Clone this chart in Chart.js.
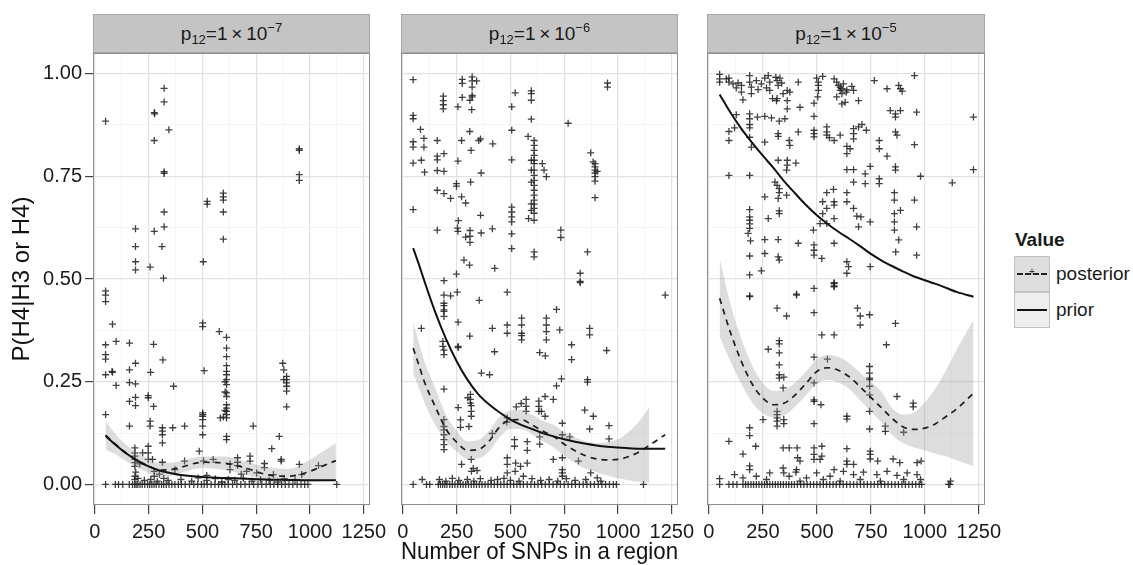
<!DOCTYPE html>
<html lang="en">
<head>
<meta charset="UTF-8">
<title>P(H4|H3 or H4) vs number of SNPs</title>
<script src="https://cdn.jsdelivr.net/npm/chart.js"></script>
<style>
  body { margin: 0; background: #fff; font-family: "Liberation Sans", Arial, sans-serif; }
  #wrap { position: relative; width: 1133px; height: 565px; overflow: hidden; }
  canvas { position: absolute; top: 45px; }
  .strip { position: absolute; top: 14px; height: 39px; box-sizing: border-box; background: #c4c4c4;
           border: 1px solid #a6a6a6; text-align: center; line-height: 38px;
           font-size: 19px; color: #1a1a1a; }
  .strip .sb { font-size: 13px; position: relative; top: 4px; }
  .strip .sp { font-size: 13px; position: relative; top: -8px; }
  .legend-title { position: absolute; left: 1015px; top: 229px; font-size: 19px; font-weight: bold; color: #1a1a1a; }
  .key { position: absolute; left: 1014px; width: 36px; height: 36px; box-sizing: border-box; border: 1px solid #c2c2c2; }
  .key .ln { position: absolute; left: 2px; right: 2px; top: 16px; height: 0; }
  .key .plus { position: absolute; left: 0; right: 0; top: 9px; text-align: center; font-size: 10px; color: #333; }
  .key-label { position: absolute; left: 1056px; font-size: 19px; color: #1a1a1a; }
</style>
</head>
<body>
<div id="wrap">
  <canvas id="c1" width="392" height="520" style="left:0px"></canvas>
  <canvas id="c2" width="315" height="520" style="left:385px"></canvas>
  <canvas id="c3" width="317" height="520" style="left:690px"></canvas>

  <div class="strip" style="left:93px; width:277px">p<span class="sb">12</span>=1&thinsp;×&thinsp;10<span class="sp">−7</span></div>
  <div class="strip" style="left:401px; width:277px">p<span class="sb">12</span>=1&thinsp;×&thinsp;10<span class="sp">−6</span></div>
  <div class="strip" style="left:707px; width:278px">p<span class="sb">12</span>=1&thinsp;×&thinsp;10<span class="sp">−5</span></div>

  <!-- legend -->
  <div class="legend-title">Value</div>
  <div class="key" style="top:256px; background:#dedede">
    <div class="ln" style="border-top:2px dashed #222"></div>
    <div class="plus">+</div>
  </div>
  <div class="key" style="top:292px; background:#eeeeee">
    <div class="ln" style="border-top:2px solid #111"></div>
  </div>
  <div class="key-label" style="top:263px">posterior</div>
  <div class="key-label" style="top:299px">prior</div>
</div>

<script>
// axis breaks
const xBreaks = [0, 250, 500, 750, 1000, 1250];
const yBreaks = [0, 0.25, 0.5, 0.75, 1];

// p12 = 1e-7 : posterior points (SNPs, P)
const pts1 = [
  [50,0.884],[322,0.964],[322,0.931],[276,0.905],[278,0.902],[344,0.863],[276,0.837],[322,0.761],[322,0.757],
  [950,0.817],[950,0.813],[950,0.754],[950,0.740],[322,0.663],[322,0.627],[276,0.616],[189,0.622],[189,0.579],
  [189,0.542],[189,0.522],[257,0.529],[312,0.579],[319,0.502],[522,0.689],[522,0.682],[597,0.709],[597,0.700],
  [597,0.692],[597,0.663],[597,0.597],[504,0.542],[50,0.471],[50,0.461],[50,0.445],
  [82,0.390],[50,0.340],[50,0.316],[50,0.305],[99,0.348],[161,0.344],[273,0.341],[316,0.303],[189,0.295],
  [50,0.267],[82,0.273],[80,0.275],[99,0.241],[161,0.279],[161,0.248],[189,0.245],[259,0.273],[366,0.239],
  [161,0.202],[189,0.212],[189,0.192],[248,0.216],[248,0.211],[273,0.190],[161,0.142],[257,0.154],[257,0.142],
  [314,0.138],[314,0.130],[314,0.121],[314,0.101],[362,0.138],[417,0.142],[501,0.393],[501,0.384],[508,0.277],
  [501,0.174],[501,0.170],[501,0.166],[501,0.158],[501,0.142],[501,0.121],[578,0.372],
  [612,0.358],[612,0.332],[612,0.311],[612,0.289],[612,0.275],[612,0.267],[612,0.255],[612,0.243],[612,0.223],
  [612,0.214],[612,0.194],[612,0.186],[612,0.178],[612,0.170],[612,0.162],[612,0.117],[612,0.109],[605,0.250],
  [605,0.225],[605,0.180],[583,0.162],[597,0.164],[873,0.295],[891,0.263],[891,0.255],[891,0.247],[891,0.239],
  [891,0.227],[891,0.189],[878,0.255],[878,0.279],[857,0.117],[866,0.057],[866,0.061],[822,0.087],[736,0.142],
  [485,0.081],[721,0.069],[721,0.057],[788,0.051],[788,0.041],[663,0.065],[663,0.054],[663,0.046],[950,0.049],
  [50,0.170],[186,0.089],[186,0.077],[186,0.069],[186,0.061],[186,0.053],[186,0.044],[186,0.020],[186,0.012],
  [222,0.077],[248,0.093],[248,0.077],[248,0.061],[268,0.061],[209,0.050],[314,0.054],[276,0.020],[276,0.032],
  [372,0.036],[417,0.057],[505,0.057],[550,0.061],[628,0.050],[628,0.036],[705,0.032],[752,0.028],[830,0.024],
  [1039,0.046],[961,0.024],[1124,0.000],
  [200,0.015],[230,0.010],[260,0.012],[290,0.008],[320,0.015],[340,0.010],[400,0.012],[450,0.008],[480,0.016],
  [520,0.010],[560,0.014],[590,0.006],[620,0.012],[650,0.010],[690,0.015],[730,0.008],[770,0.012],[810,0.010],
  [850,0.006],[880,0.014],[930,0.010],[190,0.030],[300,0.025],[520,0.022],[680,0.025],
  [50,0],[95,0],[110,0],[130,0],[160,0],[175,0],[185,0],[192,0],[200,0],[210,0],[220,0],[232,0],[245,0],[255,0],
  [265,0],[275,0],[285,0],[298,0],[310,0],[320,0],[332,0],[345,0],[358,0],[372,0],[388,0],[402,0],[420,0],[440,0],
  [460,0],[478,0],[495,0],[508,0],[522,0],[540,0],[558,0],[575,0],[590,0],[604,0],[620,0],[640,0],[660,0],[678,0],
  [698,0],[718,0],[738,0],[758,0],[776,0],[796,0],[815,0],[832,0],[850,0],[868,0],[885,0],[902,0],[920,0],[940,0],
  [958,0],[975,0],[990,0]
];
// p12 = 1e-7 : smooths
const smoothX1 = [50, 100, 150, 200, 250, 300, 350, 400, 500, 600, 700, 800, 900, 1000, 1060, 1120];
const prior1   = [0.118, 0.095, 0.074, 0.057, 0.044, 0.034, 0.028, 0.023, 0.018, 0.016, 0.014, 0.012, 0.011, 0.010, 0.010, 0.010];
const post1    = [0.120, 0.096, 0.075, 0.058, 0.045, 0.035, 0.036, 0.042, 0.054, 0.052, 0.040, 0.024, 0.020, 0.032, 0.045, 0.058];
const bandLo1  = [0.085, 0.072, 0.055, 0.040, 0.028, 0.018, 0.020, 0.028, 0.040, 0.036, 0.024, 0.008, 0.004, 0.006, 0.008, 0.010];
const bandHi1  = [0.155, 0.120, 0.095, 0.076, 0.062, 0.052, 0.053, 0.057, 0.068, 0.068, 0.056, 0.042, 0.038, 0.060, 0.080, 0.100];

// p12 = 1e-6 : posterior points
const pts2 = [
  [48,0.985],[48,0.898],[48,0.890],[82,0.864],[48,0.834],[48,0.821],[48,0.782],[98,0.842],[98,0.821],[86,0.789],
  [101,0.760],[160,0.837],[160,0.799],[160,0.790],[191,0.805],[160,0.764],[191,0.762],[188,0.945],[188,0.934],
  [188,0.924],[188,0.914],[256,0.919],[276,0.986],[276,0.976],[322,0.992],[322,0.982],[322,0.967],[322,0.947],
  [322,0.943],[343,0.982],[276,0.942],[312,0.935],[320,0.912],[311,0.859],[273,0.837],[353,0.837],[361,0.841],
  [317,0.813],[256,0.787],[364,0.758],[418,0.829],[48,0.669],[160,0.716],[191,0.708],[222,0.696],[249,0.732],
  [249,0.726],[273,0.700],[292,0.685],[315,0.736],[361,0.655],[258,0.642],[254,0.624],[256,0.616],[160,0.619],
  [312,0.618],[312,0.604],[312,0.589],[292,0.602],[364,0.612],[416,0.622],[284,0.546],[310,0.534],[427,0.526],
  [191,0.496],[191,0.461],[222,0.459],[253,0.468],[249,0.512],[485,0.468],[506,0.862],[506,0.919],[522,0.953],
  [597,0.958],[597,0.951],[597,0.935],[597,0.889],
  [582,0.847],[610,0.837],[610,0.825],[610,0.813],[610,0.801],[610,0.789],[610,0.781],[610,0.765],[610,0.752],
  [610,0.740],[610,0.728],[610,0.716],[610,0.704],[610,0.692],[610,0.682],[610,0.672],[610,0.660],[610,0.643],
  [597,0.789],[597,0.765],[597,0.736],[597,0.683],[597,0.667],
  [648,0.781],[656,0.765],[667,0.749],[584,0.647],[506,0.675],[506,0.663],[506,0.651],[506,0.639],[506,0.610],
  [506,0.574],[506,0.790],[610,0.566],[610,0.554],[734,0.619],[734,0.601],[768,0.879],[824,0.514],[824,0.494],
  [858,0.566],[873,0.807],[893,0.781],[893,0.773],[893,0.765],[893,0.758],[893,0.749],[893,0.738],[893,0.698],
  [884,0.785],[903,0.762],[951,0.977],[951,0.967],[1219,0.461],
  [191,0.441],[191,0.435],[191,0.425],[191,0.421],[191,0.409],[355,0.448],[86,0.380],[257,0.395],[311,0.361],
  [186,0.348],[186,0.336],[191,0.327],[257,0.336],[257,0.333],[191,0.316],[416,0.380],[485,0.388],[485,0.368],
  [552,0.405],[552,0.388],[552,0.368],[552,0.362],[552,0.352],[667,0.405],[667,0.388],[667,0.372],[667,0.352],
  [426,0.323],[636,0.321],[662,0.313],[714,0.426],[729,0.376],[784,0.340],[784,0.304],[824,0.491],[868,0.380],
  [868,0.364],[947,0.326],[365,0.271],[403,0.267],[737,0.257],[858,0.255],[858,0.249],[714,0.240],[191,0.232],
  [314,0.219],[314,0.207],[314,0.198],[318,0.192],[318,0.178],[318,0.166],[302,0.211],[573,0.207],[661,0.214],
  [699,0.207],[550,0.197],[527,0.189],[573,0.190],[573,0.178],[632,0.203],[632,0.190],[632,0.178],[661,0.166],
  [644,0.178],[257,0.187],[268,0.157],[268,0.139],[307,0.141],[416,0.124],[485,0.162],[483,0.152],[519,0.109],
  [519,0.093],[578,0.104],[578,0.083],[636,0.116],[636,0.098],[741,0.149],[741,0.121],[845,0.181],[885,0.166],
  [958,0.143],[958,0.111],[868,0.135],[776,0.116],[699,0.061],[741,0.065],[485,0.065],[485,0.049],[524,0.052],
  [547,0.044],[578,0.052],[273,0.049],[318,0.061],[327,0.039],[319,0.032],[345,0.034],[191,0.141],[191,0.133],
  [191,0.121],[191,0.109],[191,0.097],[191,0.085],[191,0.158],[816,0.057],[741,0.036],[741,0.028],[741,0.020],
  [873,0.028],[903,0.016],[560,0.020],[522,0.032],[485,0.028],[1118,0],[90,0.012],
  [170,0.012],[200,0.008],[230,0.015],[260,0.010],[300,0.012],[330,0.008],[360,0.014],[410,0.010],[440,0.012],
  [470,0.015],[500,0.010],[540,0.008],[600,0.014],[640,0.010],[680,0.012],[720,0.008],[760,0.014],[800,0.010],
  [850,0.012],[920,0.008],
  [48,0],[110,0],[125,0],[165,0],[175,0],[185,0],[195,0],[205,0],[218,0],[230,0],[242,0],[255,0],[268,0],[280,0],
  [292,0],[305,0],[318,0],[330,0],[342,0],[355,0],[368,0],[382,0],[396,0],[410,0],[425,0],[440,0],[455,0],[470,0],
  [485,0],[500,0],[515,0],[530,0],[545,0],[560,0],[578,0],[595,0],[612,0],[628,0],[645,0],[662,0],[680,0],[698,0],
  [715,0],[732,0],[750,0],[768,0],[785,0],[802,0],[820,0],[838,0],[855,0],[872,0],[890,0],[908,0],[925,0],[942,0],
  [960,0],[978,0],[992,0]
];
// p12 = 1e-6 : smooths
const smoothX2 = [48, 75, 100, 150, 200, 250, 300, 350, 400, 450, 500, 550, 600, 650, 700, 750, 800, 850, 900, 950, 1000, 1050, 1100, 1145, 1219];
const prior2   = [0.575, 0.535, 0.495, 0.420, 0.355, 0.300, 0.255, 0.220, 0.195, 0.175, 0.158, 0.145, 0.135, 0.125, 0.117, 0.110, 0.104, 0.099, 0.095, 0.092, 0.090, 0.088, 0.087, 0.087, 0.087];
const post2    = [0.332, 0.290, 0.250, 0.190, 0.135, 0.103, 0.083, 0.085, 0.105, 0.140, 0.157, 0.158, 0.145, 0.130, 0.117, 0.098, 0.082, 0.070, 0.062, 0.060, 0.061, 0.068, 0.080, 0.095, 0.121];
const bandLo2  = [0.270, 0.235, 0.200, 0.145, 0.105, 0.080, 0.062, 0.063, 0.080, 0.115, 0.135, 0.135, 0.122, 0.105, 0.090, 0.070, 0.052, 0.038, 0.030, 0.022, 0.015, 0.010, 0.006, 0.004, null];
const bandHi2  = [0.395, 0.345, 0.300, 0.235, 0.170, 0.130, 0.105, 0.108, 0.130, 0.165, 0.180, 0.182, 0.170, 0.155, 0.145, 0.128, 0.115, 0.105, 0.100, 0.103, 0.110, 0.128, 0.155, 0.187, null];

// p12 = 1e-5 : posterior points
const pts3 = [
  [50,0.998],[50,0.987],[50,0.979],[81,0.987],[93,0.979],[93,0.989],[112,0.975],[135,0.977],[151,0.971],[151,0.955],
  [158,0.936],[189,0.995],[189,0.979],[197,0.967],[197,0.951],[220,0.983],[243,0.975],[259,0.989],[267,0.965],
  [275,0.995],[282,0.959],[295,0.939],[310,0.991],[316,0.983],[321,0.971],[329,0.989],[337,0.977],[316,0.939],
  [344,0.951],[363,0.959],[363,0.934],[313,0.934],[414,0.979],[499,0.989],[507,0.979],[507,0.971],[507,0.959],
  [504,0.943],[527,0.993],[487,0.928],[580,0.987],[592,0.979],[600,0.971],[608,0.967],[608,0.959],[616,0.951],
  [623,0.975],[636,0.955],[662,0.969],[670,0.959],[616,0.926],[631,0.930],[693,0.934],[766,0.983],[825,0.963],
  [879,0.971],[887,0.963],[895,0.957],[952,0.995],[282,0.979],[228,0.961],[375,0.955],[592,0.943],[616,0.963],
  [127,0.965],[639,0.960],
  [189,0.902],[189,0.890],[189,0.876],[189,0.868],[127,0.900],[225,0.894],[259,0.896],[290,0.892],[326,0.884],
  [352,0.890],[363,0.914],[422,0.918],[487,0.896],[93,0.859],[93,0.837],[119,0.868],[189,0.845],[197,0.821],
  [259,0.833],[321,0.854],[321,0.847],[372,0.837],[375,0.825],[414,0.858],[487,0.862],[487,0.854],[487,0.846],
  [546,0.870],[546,0.858],[546,0.850],[558,0.844],[580,0.837],[608,0.850],[639,0.823],[654,0.817],[639,0.805],
  [670,0.866],[670,0.854],[670,0.841],[693,0.870],[709,0.876],[729,0.862],[789,0.837],[789,0.817],[825,0.799],
  [840,0.910],[864,0.902],[887,0.910],[864,0.894],[864,0.858],[871,0.850],[952,0.827],[962,0.906],[1225,0.894],
  [1225,0.766],[1127,0.734],[980,0.750],[93,0.752],[189,0.752],[321,0.789],[363,0.789],[363,0.777],[403,0.782],
  [360,0.765],[639,0.766],[670,0.766],[670,0.736],[724,0.756],[747,0.774],[724,0.732],[789,0.744],[789,0.732],
  [864,0.773],[864,0.765],[306,0.736],[316,0.728],[326,0.720],[326,0.710],[360,0.704],[321,0.696],[259,0.700],
  [326,0.666],[326,0.659],[189,0.669],[189,0.651],[189,0.643],[189,0.634],[189,0.623],[182,0.611],[193,0.593],
  [275,0.647],[259,0.596],[321,0.596],[546,0.710],[577,0.718],[580,0.688],[580,0.680],[546,0.672],[639,0.710],
  [670,0.672],[639,0.688],[685,0.653],[704,0.651],[747,0.639],[693,0.627],[527,0.688],[527,0.659],[515,0.635],
  [546,0.635],[580,0.647],[859,0.710],[859,0.692],[859,0.659],[859,0.639],[887,0.667],[859,0.619],[879,0.595],
  [952,0.692],[962,0.627],[259,0.562],[189,0.556],[321,0.554],[326,0.546],[189,0.510],[243,0.520],[414,0.587],
  [484,0.619],[487,0.583],[487,0.570],[487,0.558],[523,0.550],[580,0.587],[639,0.542],[647,0.530],[639,0.514],
  [747,0.530],[865,0.566],[962,0.558],[580,0.489],[580,0.481],[487,0.477],[406,0.463],[189,0.459],
  [189,0.457],[316,0.429],[360,0.410],[406,0.461],[487,0.418],[580,0.491],[580,0.483],[523,0.364],[580,0.364],
  [688,0.429],[701,0.410],[701,0.388],[744,0.413],[864,0.392],[822,0.340],[275,0.329],[326,0.350],[326,0.342],
  [326,0.320],[326,0.291],[326,0.267],[326,0.259],[347,0.261],[344,0.235],[549,0.305],[487,0.310],[487,0.247],
  [487,0.206],[487,0.202],[487,0.148],[519,0.194],[316,0.178],[316,0.170],[316,0.162],[316,0.154],[316,0.142],
  [347,0.158],[347,0.148],[251,0.158],[639,0.166],[639,0.159],[744,0.287],[744,0.271],[744,0.259],[744,0.255],
  [744,0.239],[744,0.218],[744,0.178],[744,0.135],[817,0.142],[817,0.129],[871,0.214],[946,0.198],[946,0.189],
  [902,0.127],[93,0.105],[189,0.138],[189,0.119],[217,0.093],[158,0.074],[344,0.089],[372,0.089],[409,0.089],
  [411,0.065],[422,0.057],[403,0.030],[487,0.089],[487,0.073],[487,0.061],[523,0.093],[523,0.069],[515,0.061],
  [580,0.036],[639,0.087],[639,0.057],[639,0.049],[670,0.049],[747,0.081],[747,0.073],[747,0.062],[782,0.057],
  [853,0.062],[884,0.053],[964,0.053],[983,0.057],
  [119,0.024],[189,0.045],[189,0.036],[344,0.040],[347,0.028],[372,0.020],[406,0.036],[452,0.016],[499,0.028],
  [561,0.020],[623,0.032],[670,0.024],[716,0.030],[778,0.024],[825,0.032],[871,0.022],[918,0.028],[964,0.024],
  [220,0.020],[282,0.028],[158,0.016],[50,0.014],[267,0.012],[422,0.008],[530,0.012],[608,0.008],[701,0.012],
  [794,0.008],[902,0.012],[980,0.012],[1119,0.008],
  [50,0],[93,0],[112,0],[130,0],[158,0],[170,0],[182,0],[195,0],[207,0],[220,0],[232,0],[245,0],[258,0],[270,0],
  [282,0],[295,0],[308,0],[320,0],[332,0],[345,0],[358,0],[370,0],[383,0],[396,0],[410,0],[425,0],[440,0],[455,0],
  [470,0],[485,0],[500,0],[515,0],[530,0],[545,0],[560,0],[575,0],[590,0],[606,0],[622,0],[638,0],[654,0],[670,0],
  [686,0],[702,0],[718,0],[734,0],[750,0],[766,0],[782,0],[798,0],[814,0],[830,0],[846,0],[862,0],[878,0],[894,0],
  [910,0],[926,0],[942,0],[958,0],[974,0],[985,0],[1110,0],[1116,0]
];
// p12 = 1e-5 : smooths
const smoothX3 = [50, 100, 150, 200, 250, 300, 350, 400, 450, 500, 550, 600, 650, 700, 750, 800, 850, 900, 950, 1000, 1050, 1100, 1150, 1225];
const prior3   = [0.949, 0.905, 0.866, 0.832, 0.800, 0.770, 0.737, 0.708, 0.680, 0.655, 0.634, 0.615, 0.598, 0.580, 0.561, 0.545, 0.531, 0.518, 0.506, 0.497, 0.488, 0.478, 0.468, 0.457];
const post3    = [0.453, 0.370, 0.300, 0.245, 0.210, 0.194, 0.198, 0.218, 0.246, 0.275, 0.284, 0.278, 0.262, 0.238, 0.212, 0.186, 0.160, 0.140, 0.134, 0.137, 0.148, 0.166, 0.185, 0.222];
const bandLo3  = [0.360, 0.300, 0.245, 0.200, 0.173, 0.163, 0.168, 0.190, 0.218, 0.245, 0.255, 0.248, 0.232, 0.205, 0.178, 0.150, 0.120, 0.100, 0.090, 0.083, 0.075, 0.068, 0.058, 0.045];
const bandHi3  = [0.550, 0.440, 0.355, 0.290, 0.247, 0.228, 0.230, 0.248, 0.275, 0.305, 0.315, 0.310, 0.295, 0.272, 0.250, 0.225, 0.185, 0.170, 0.175, 0.200, 0.235, 0.280, 0.330, 0.400];

// ---------- drawing ----------
const FONT = '"Liberation Sans", Arial, sans-serif';
const xMinor = xBreaks.slice(1).map((v, i) => (v + xBreaks[i]) / 2);
const yMinor = yBreaks.slice(1).map((v, i) => (v + yBreaks[i]) / 2);
const xTickVals = xBreaks.concat(xMinor).sort((a, b) => a - b);
const yTickVals = yBreaks.concat(yMinor).sort((a, b) => a - b);
const isMajor = (list, v) => list.some(b => Math.abs(b - v) < 1e-9);

const panelBorder = {
  id: 'panelBorder',
  afterDraw(chart) {
    const a = chart.chartArea, c = chart.ctx;
    c.save();
    c.strokeStyle = '#8f8f8f';
    c.lineWidth = 1;
    c.strokeRect(Math.round(a.left) + 0.5, Math.round(a.top) + 0.5,
                 Math.round(a.right - a.left) - 1, Math.round(a.bottom - a.top) - 1);
    c.restore();
  }
};

function xy(xs, ys) { return xs.map((x, i) => ({ x: x, y: ys[i] })); }

function makePanel(id, o) {
  new Chart(document.getElementById(id), {
    type: 'scatter',
    data: {
      datasets: [
        { type: 'line', label: 'band lo', data: xy(o.sx, o.lo), borderWidth: 0, pointRadius: 0,
          fill: false, order: 1, cubicInterpolationMode: 'monotone' },
        { type: 'line', label: 'band hi', data: xy(o.sx, o.hi), borderWidth: 0, pointRadius: 0,
          fill: '-1', backgroundColor: 'rgba(150,150,150,0.32)', order: 1, cubicInterpolationMode: 'monotone' },
        { type: 'line', label: 'prior', data: xy(o.sx, o.prior), borderColor: '#111', borderWidth: 2,
          pointRadius: 0, fill: false, order: 0, cubicInterpolationMode: 'monotone' },
        { type: 'line', label: 'posterior', data: xy(o.sx, o.post), borderColor: '#1e1e1e', borderWidth: 1.7,
          borderDash: [6, 5], pointRadius: 0, fill: false, order: 0, cubicInterpolationMode: 'monotone' },
        { label: 'posterior points', data: o.pts.map(p => ({ x: p[0], y: p[1] })), pointStyle: 'cross',
          pointRadius: 3.5, borderColor: 'rgba(30,30,30,0.85)', borderWidth: 1.3, order: 2 }
      ]
    },
    options: {
      responsive: false,
      animation: false,
      events: [],
      layout: { padding: { left: o.padLeft, right: 22, top: 8, bottom: 0 } },
      plugins: { legend: { display: false }, tooltip: { enabled: false } },
      scales: {
        x: {
          type: 'linear', min: -8.5, max: 1278.5,
          afterBuildTicks: s => { s.ticks = xTickVals.map(v => ({ value: v })); },
          afterFit: s => { s.height = 60; s.paddingLeft = 0; s.paddingRight = 0; },
          border: { display: false },
          grid: {
            color: c => isMajor(xBreaks, c.tick.value) ? '#e2e2e2' : '#f3f3f3',
            lineWidth: c => isMajor(xBreaks, c.tick.value) ? 1.2 : 0.8,
            tickColor: c => isMajor(xBreaks, c.tick.value) ? '#444' : 'rgba(0,0,0,0)',
            tickLength: 9
          },
          ticks: {
            autoSkip: false, maxRotation: 0, padding: 6, color: '#1a1a1a',
            font: { family: FONT, size: 20 },
            callback: v => isMajor(xBreaks, v) ? String(v) : ''
          },
          title: {
            display: o.xTitle, text: 'Number of SNPs in a region', color: '#111',
            font: { family: FONT, size: 24, lineHeight: 1 }, padding: { top: 0, bottom: 1 }
          }
        },
        y: {
          type: 'linear', min: -0.05, max: 1.05,
          afterBuildTicks: s => { s.ticks = yTickVals.map(v => ({ value: v })); },
          afterFit: s => { s.width = o.showY ? 93 : 0; s.paddingTop = 0; s.paddingBottom = 0; },
          border: { display: false },
          grid: {
            color: c => isMajor(yBreaks, c.tick.value) ? '#e2e2e2' : '#f3f3f3',
            lineWidth: c => isMajor(yBreaks, c.tick.value) ? 1.2 : 0.8,
            tickColor: c => isMajor(yBreaks, c.tick.value) ? '#444' : 'rgba(0,0,0,0)',
            drawTicks: o.showY,
            tickLength: 8
          },
          ticks: {
            display: o.showY, autoSkip: false, padding: 3, color: '#1a1a1a',
            font: { family: FONT, size: 20 },
            callback: v => isMajor(yBreaks, v) ? v.toFixed(2) : ''
          },
          title: {
            display: o.showY, text: 'P(H4|H3 or H4)', color: '#111',
            font: { family: FONT, size: 24 }, padding: { top: 8, bottom: 0 }
          }
        }
      }
    },
    plugins: [panelBorder]
  });
}

makePanel('c1', { padLeft: 0,  showY: true,  xTitle: false, pts: pts1, sx: smoothX1, prior: prior1, post: post1, lo: bandLo1, hi: bandHi1 });
makePanel('c2', { padLeft: 16, showY: false, xTitle: true,  pts: pts2, sx: smoothX2, prior: prior2, post: post2, lo: bandLo2, hi: bandHi2 });
makePanel('c3', { padLeft: 17, showY: false, xTitle: false, pts: pts3, sx: smoothX3, prior: prior3, post: post3, lo: bandLo3, hi: bandHi3 });
</script>
</body>
</html>
